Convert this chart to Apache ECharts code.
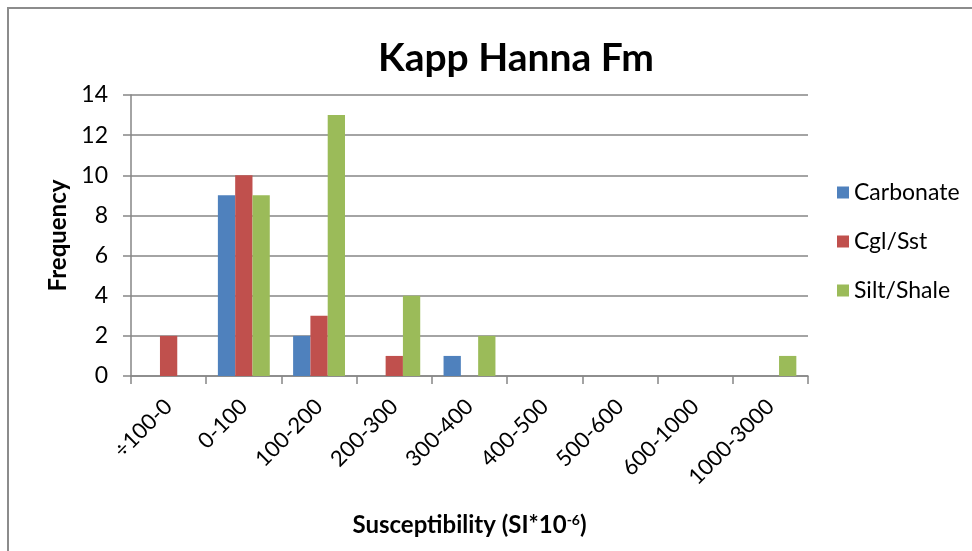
<!DOCTYPE html>
<html>
<head>
<meta charset="utf-8">
<script src="https://cdn.jsdelivr.net/npm/echarts@6/dist/echarts.min.js"></script>
<style>
    html, body { margin: 0; padding: 0; background: #fff; }
    #chart { width: 972px; height: 551px; }
</style>
</head>
<body>
<div id="chart"></div>
<script>
// 数据
const categories = ['÷100-0', '0-100', '100-200', '200-300', '300-400', '400-500', '500-600', '600-1000', '1000-3000'];
const carbonate = [0, 9, 2, 0, 1, 0, 0, 0, 0];
const cglSst = [2, 10, 3, 1, 0, 0, 0, 0, 0];
const siltShale = [0, 9, 13, 4, 2, 0, 0, 0, 1];
const yTicks = { min: 0, max: 14, interval: 2 };

const font = 'Lato, "Open Sans", sans-serif';
const gridColor = '#868686';

const myChart = echarts.init(document.getElementById('chart'));

const makeSeries = (name, data, color) => ({
    name: name,
    type: 'bar',
    data: data,
    barGap: '0%',
    barCategoryGap: '31%',
    itemStyle: { color: color },
});

const option = {
    animation: false,
    backgroundColor: '#fff',
    textStyle: { fontFamily: font },
    title: {
        text: 'Kapp Hanna Fm',
        left: 511,
        textAlign: 'center',
        top: 34,
        textStyle: { fontFamily: font, fontSize: 39, fontWeight: 'bold', color: '#000' },
    },
    legend: {
        orient: 'vertical',
        left: 832,
        top: 176,
        itemWidth: 12,
        itemHeight: 12,
        itemGap: 26,
        icon: 'rect',
        textStyle: { fontFamily: font, fontSize: 23, color: '#000' },
        data: ['Carbonate', 'Cgl/Sst', 'Silt/Shale'],
    },
    grid: { left: 131, right: 164, top: 95, bottom: 175 },
    xAxis: {
        type: 'category',
        data: categories,
        name: '{a|Susceptibility (SI*10}{s|-6}{a|)}',
        nameLocation: 'middle',
        nameGap: 137,
        nameTextStyle: {
            rich: {
                a: { fontFamily: font, fontSize: 24, fontWeight: 'bold', color: '#000' },
                s: { fontFamily: font, fontSize: 14, fontWeight: 'bold', color: '#000', padding: [0, 0, 10, 0] },
            },
        },
        axisLine: { lineStyle: { color: gridColor, width: 1.5 } },
        axisTick: { show: true, length: 8, interval: 0, lineStyle: { color: gridColor, width: 1.5 } },
        axisLabel: { interval: 0, rotate: 45, fontFamily: font, fontSize: 22, color: '#000', margin: 27 },
    },
    yAxis: {
        type: 'value',
        min: yTicks.min,
        max: yTicks.max,
        interval: yTicks.interval,
        name: 'Frequency',
        nameLocation: 'middle',
        nameGap: 61,
        nameTextStyle: { fontFamily: font, fontSize: 24, fontWeight: 'bold', color: '#000' },
        axisLine: { show: true, lineStyle: { color: gridColor, width: 1.5 } },
        axisTick: { show: true, length: 8, lineStyle: { color: gridColor, width: 1.5 } },
        axisLabel: { fontFamily: font, fontSize: 23, color: '#000', margin: 23 },
        splitLine: { lineStyle: { color: gridColor, width: 1.5 } },
    },
    series: [
        makeSeries('Carbonate', carbonate, '#4F81BD'),
        makeSeries('Cgl/Sst', cglSst, '#C0504D'),
        makeSeries('Silt/Shale', siltShale, '#9BBB59'),
    ],
    graphic: [{
        // 外框（只有上边和左边可见）
        type: 'polyline',
        shape: { points: [[8, 551], [8, 8], [972, 8]] },
        style: { stroke: '#8c8c8c', lineWidth: 2, fill: null },
    }],
};

myChart.setOption(option);
window.addEventListener('resize', () => {
    myChart.resize();
});
</script>
</body>
</html>
